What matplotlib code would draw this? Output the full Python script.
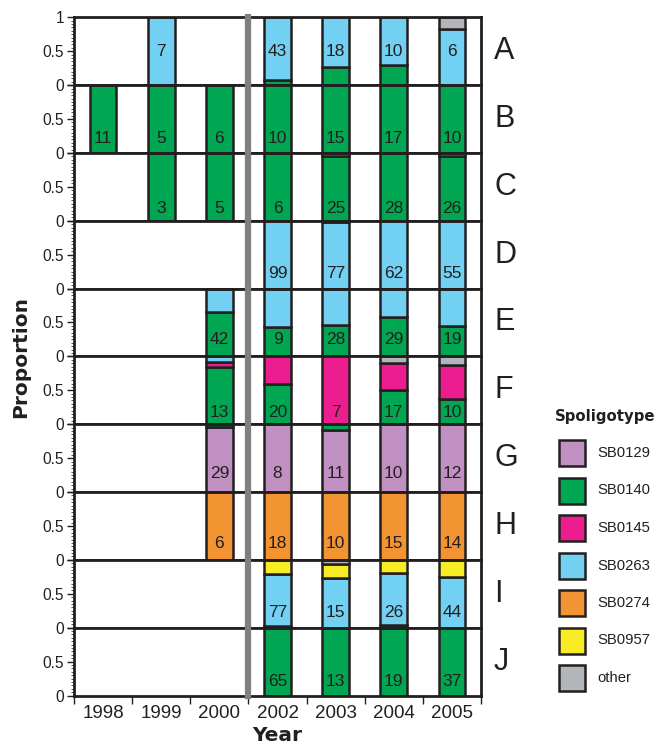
import matplotlib
matplotlib.use('Agg')
import matplotlib.pyplot as plt
from matplotlib.patches import Rectangle
import numpy as np

plt.rcParams['font.family'] = ['Liberation Sans', 'DejaVu Sans']

years = ['1998', '1999', '2000', '2002', '2003', '2004', '2005']
loci = ['A', 'B', 'C', 'D', 'E', 'F', 'G', 'H', 'I', 'J']
spoligotypes = ['SB0129', 'SB0140', 'SB0145', 'SB0263', 'SB0274', 'SB0957', 'other']
colors = ['#c190c3', '#00a651', '#ec1e8f', '#72d0f2', '#f39433', '#f8ec25', '#b2b6bb']

# sample size per year, and the stacked proportions (bottom -> top)
A_n = [None, 7, None, 43, 18, 10, 6]
A_mix = [[], [('SB0263', 1)], [],
         [('SB0140', .07), ('SB0263', .93)],
         [('SB0140', .27), ('SB0263', .73)],
         [('SB0140', .30), ('SB0263', .70)],
         [('SB0263', .83), ('other', .17)]]

B_n = [11, 5, 6, 10, 15, 17, 10]
B_mix = [[('SB0140', 1)]] * 7

C_n = [None, 3, 5, 6, 25, 28, 26]
C_mix = [[], [('SB0140', 1)], [('SB0140', 1)], [('SB0140', 1)],
         [('SB0140', .96), ('SB0274', .04)],
         [('SB0140', 1)],
         [('SB0140', .96), ('other', .04)]]

D_n = [None, None, None, 99, 77, 62, 55]
D_mix = [[], [], [], [('SB0263', 1)],
         [('SB0263', .985), ('other', .015)],
         [('SB0263', 1)], [('SB0263', 1)]]

E_n = [None, None, 42, 9, 28, 29, 19]
E_mix = [[], [],
         [('SB0140', .65), ('SB0263', .35)],
         [('SB0140', .44), ('SB0263', .56)],
         [('SB0140', .46), ('SB0263', .54)],
         [('SB0140', .58), ('SB0263', .42)],
         [('SB0140', .45), ('SB0263', .55)]]

F_n = [None, None, 13, 20, 7, 17, 10]
F_mix = [[], [],
         [('SB0140', .846), ('SB0145', .077), ('SB0263', .077)],
         [('SB0140', .59), ('SB0145', .41)],
         [('SB0145', 1)],
         [('SB0140', .50), ('SB0145', .41), ('other', .09)],
         [('SB0140', .37), ('SB0145', .51), ('other', .12)]]

G_n = [None, None, 29, 8, 11, 10, 12]
G_mix = [[], [],
         [('SB0129', .966), ('SB0140', .034)],
         [('SB0129', 1)],
         [('SB0129', .91), ('SB0140', .09)],
         [('SB0129', 1)], [('SB0129', 1)]]

H_n = [None, None, 6, 18, 10, 15, 14]
H_mix = [[], []] + [[('SB0274', 1)]] * 5

I_n = [None, None, None, 77, 15, 26, 44]
I_mix = [[], [], [],
         [('SB0140', .026), ('SB0263', .766), ('SB0957', .208)],
         [('SB0263', .733), ('SB0957', .20), ('other', .067)],
         [('SB0140', .038), ('SB0263', .77), ('SB0957', .192)],
         [('SB0263', .75), ('SB0957', .25)]]

J_n = [None, None, None, 65, 13, 19, 37]
J_mix = [[], [], []] + [[('SB0140', 1)]] * 4

all_n = [A_n, B_n, C_n, D_n, E_n, F_n, G_n, H_n, I_n, J_n]
all_mix = [A_mix, B_mix, C_mix, D_mix, E_mix, F_mix, G_mix, H_mix, I_mix, J_mix]
label_y = [0.5, 0.22, 0.18, 0.22, 0.25, 0.18, 0.27, 0.24, 0.22, 0.2]

ink = '#231f20'
color_of = dict(zip(spoligotypes, colors))

W, H = 658, 747
fig = plt.figure(figsize=(W / 100, H / 100), dpi=100)

left, right = 74, 481
top, bottom = 17.3, 695.5
row_h = (bottom - top) / len(loci)
x = np.arange(len(years))

for r, locus in enumerate(loci):
    y0 = H - (top + (r + 1) * row_h)
    ax = fig.add_axes([left / W, y0 / H, (right - left) / W, row_h / H])
    for i in range(len(years)):
        base = 0
        for sp, frac in all_mix[r][i]:
            ax.bar(x[i], frac, width=0.46, bottom=base, color=color_of[sp],
                   edgecolor=ink, linewidth=1.8, zorder=2)
            base += frac
        if all_n[r][i] is not None:
            ax.text(x[i], label_y[r], str(all_n[r][i]), ha='center', va='center',
                    fontsize=12.5, color=ink, zorder=4)
    ax.set_xlim(-0.5, len(years) - 0.5)
    ax.set_ylim(0, 1)
    ax.axvline(2.5, color='#7f8080', lw=4.5, zorder=5, clip_on=False)
    for s in ax.spines.values():
        s.set_linewidth(2.0)
        s.set_color(ink)
    ax.set_yticks([0, 0.5, 1])
    ax.set_yticklabels(['0', '0.5', '1' if r == 0 else ''], fontsize=11.2, color=ink)
    ax.set_yticks(np.arange(0, 1.001, 0.05), minor=True)
    ax.tick_params(axis='y', which='major', direction='out', length=5, width=1, color=ink, pad=2)
    ax.tick_params(axis='y', which='minor', direction='out', length=2.5, width=0.7, color='#555555')
    ax.text(1.032, 0.5, locus, transform=ax.transAxes, ha='left', va='center',
            fontsize=22, color=ink)
    if r == len(loci) - 1:
        ax.set_xticks(np.arange(-0.5, len(years)))
        ax.set_xticklabels([])
        ax.set_xticks(x, minor=True)
        ax.set_xticklabels(years, minor=True, fontsize=13.5, color=ink)
        ax.tick_params(axis='x', which='major', direction='out', length=6, width=1, color=ink)
        ax.tick_params(axis='x', which='minor', length=0, pad=7)
        ax.set_xlabel('Year', fontsize=14.5, fontweight='bold', family='DejaVu Sans',
                      color=ink, labelpad=3)
    elif locus == 'H':
        ax.set_xticks(np.arange(0.5, len(years) - 1))
        ax.set_xticklabels([])
        ax.tick_params(axis='x', direction='out', length=6, width=1, color=ink)
    else:
        ax.set_xticks([])

fig.text(20.8 / W, 1 - 357.5 / H, 'Proportion', rotation=90, ha='center', va='center',
         fontsize=14.5, fontweight='bold', family='DejaVu Sans', color=ink)

# legend
fig.text(605 / W, 1 - 417 / H, 'Spoligotype', ha='center', va='center',
         fontsize=10.7, fontweight='bold', family='DejaVu Sans', color=ink)
for k, (sp, c) in enumerate(zip(spoligotypes, colors)):
    yc = 453 + k * 37.5
    fig.add_artist(Rectangle((559 / W, 1 - (yc + 13) / H), 26 / W, 26 / H,
                             transform=fig.transFigure, facecolor=c,
                             edgecolor=ink, linewidth=1.8))
    fig.text(597 / W, 1 - yc / H, sp, ha='left', va='center', fontsize=10.7, color=ink)

fig.savefig('out.png', dpi=100)
